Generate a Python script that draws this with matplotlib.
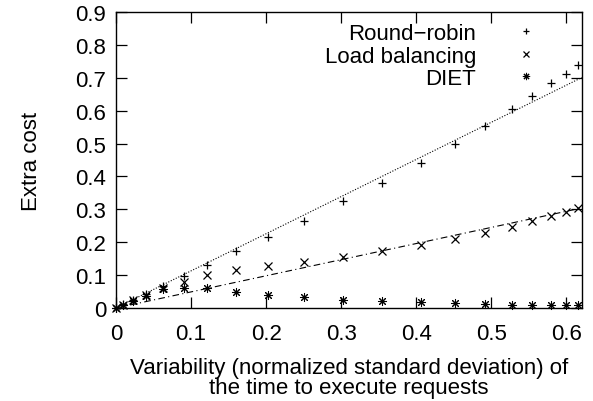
import matplotlib
matplotlib.use("Agg")
import matplotlib.pyplot as plt
import numpy as np

plt.rcParams['font.family'] = ['Liberation Sans', 'DejaVu Sans']

x = [0, 0.01, 0.022, 0.04, 0.062, 0.09, 0.121, 0.16, 0.203, 0.25, 0.302,
     0.354, 0.406, 0.452, 0.492, 0.528, 0.555, 0.58, 0.60, 0.616]
round_robin = [0.0, 0.011, 0.024, 0.043, 0.068, 0.097, 0.132, 0.172, 0.217, 0.265, 0.324,
               0.380, 0.441, 0.498, 0.552, 0.605, 0.645, 0.683, 0.711, 0.739]
load_balancing = [0.0, 0.01, 0.023, 0.040, 0.062, 0.078, 0.100, 0.115, 0.127, 0.139, 0.156,
                  0.172, 0.191, 0.210, 0.229, 0.247, 0.264, 0.279, 0.293, 0.304]
diet = [0.0, 0.01, 0.022, 0.038, 0.058, 0.061, 0.060, 0.050, 0.040, 0.032, 0.025,
        0.022, 0.019, 0.015, 0.012, 0.009, 0.009, 0.009, 0.009, 0.009]

rr_slope = 1.129
lb_slope = 0.49

xticks = [0, 0.1, 0.2, 0.3, 0.4, 0.5, 0.6]
xticklabels = ['0', '0.1', '0.2', '0.3', '0.4', '0.5', '0.6']
yticks = [0, 0.1, 0.2, 0.3, 0.4, 0.5, 0.6, 0.7, 0.8, 0.9]
yticklabels = ['0', '0.1', '0.2', '0.3', '0.4', '0.5', '0.6', '0.7', '0.8', '0.9']

fig = plt.figure(figsize=(5.93, 4.02), dpi=100)
ax = fig.add_axes([0.1956, 0.2313, 0.7859, 0.7364])

xmax = 0.621
xl = np.array([0, xmax])
ax.plot(xl, rr_slope * xl, color='black', linestyle=(0, (1, 1.5)), linewidth=0.8)
ax.plot(xl, lb_slope * xl, color='black', linestyle=(0, (6, 3, 1, 3)), linewidth=0.8)

ax.plot(x, round_robin, linestyle='none', marker='+', markersize=6, markeredgewidth=0.9,
        color='black', label='Round\u2212robin', clip_on=False)
ax.plot(x, load_balancing, linestyle='none', marker='x', markersize=5.5, markeredgewidth=0.9,
        color='black', label='Load balancing', clip_on=False)
ax.plot(x, diet, linestyle='none', marker=(8, 2, 0), markersize=6.5, markeredgewidth=0.75,
        color='black', label='DIET', clip_on=False)

ax.set_xlim(0, xmax)
ax.set_ylim(0, 0.9)
ax.set_xticks(xticks)
ax.set_xticklabels(xticklabels)
ax.set_yticks(yticks)
ax.set_yticklabels(yticklabels)
ax.tick_params(direction='in', length=8, width=0.9, top=True, right=True, labelsize=16, pad=7)
ax.tick_params(axis='x', pad=11)
for s in ax.spines.values():
    s.set_linewidth(1.0)

ax.set_ylabel('Extra cost', fontsize=16, labelpad=24)
ax.set_xlabel('Variability (normalized standard deviation) of\nthe time to execute requests',
              fontsize=16, linespacing=0.95, labelpad=9)

leg = ax.legend(loc='upper right', frameon=False, fontsize=16, markerfirst=False,
                handlelength=1.0, handletextpad=1.75, labelspacing=0.07, markerscale=0.8,
                borderaxespad=0.1, bbox_to_anchor=(0.928, 1.0))
for t in leg.get_texts():
    t.set_ha('right')
leg._legend_box.align = 'right'

fig.savefig('out.png', dpi=100)
